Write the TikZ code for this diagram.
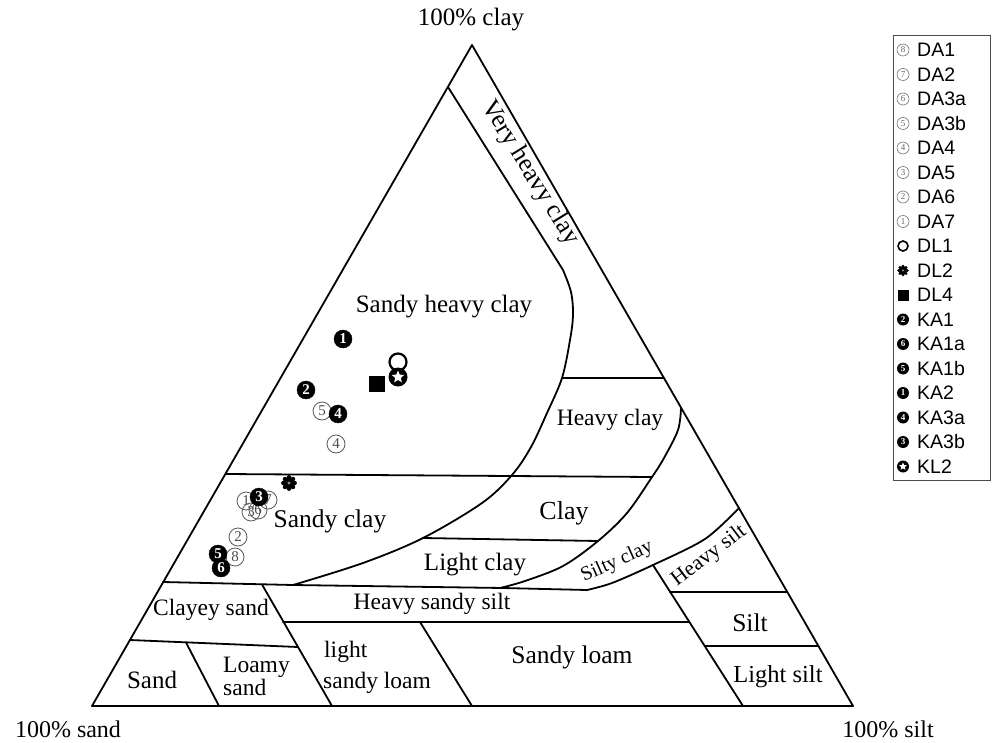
\documentclass[tikz,border=0pt]{standalone}
\usepackage{fontspec}
\setmainfont{Liberation Serif}
\newfontfamily\legfont{Liberation Sans}
\usetikzlibrary{shapes.geometric}
\tikzset{
  bnd/.style={line width=1.8pt, line join=round, line cap=round, black},
  lab/.style={inner sep=0pt, font=\fontsize{#1}{#1}\selectfont},
  lab/.default=24,
  dasym/.style={circle, draw=black!65, line width=0.8pt, minimum size=18pt, inner sep=0pt, text=black!70, font=\fontsize{15}{15}\selectfont},
  kasym/.style={circle, fill=black, draw=black, minimum size=18pt, inner sep=0pt, text=white, font=\bfseries\fontsize{15}{15}\selectfont},
  ldasym/.style={circle, draw=black!55, line width=0.6pt, minimum size=12pt, inner sep=0pt, text=black!60, font=\fontsize{9}{9}\selectfont},
  lkasym/.style={circle, fill=black, minimum size=12pt, inner sep=0pt, text=white, font=\bfseries\fontsize{9}{9}\selectfont},
  legtxt/.style={anchor=west, inner sep=0pt, font=\legfont\fontsize{19.5}{19.5}\selectfont},
  gear/.pic={\fill[black] (0,0) circle (5.6);
    \foreach \a in {0,45,...,315} \fill[black] (\a:5.6) circle (2.3);
    \fill[black!45] (0,0) circle (1.6);}
}
\begin{document}
\begin{tikzpicture}[x=1pt,y=-1pt]
\useasboundingbox (0,0) rectangle (995,743);
% triangle
\coordinate (A) at (92,706);
\coordinate (B) at (853,706);
\coordinate (C) at (472,45);
\draw[bnd] (A) -- (C) -- (B) -- cycle;
% very heavy clay / sandy heavy clay boundary
\draw[bnd] (448,87) -- plot[smooth, tension=0.55] coordinates {(563,270) (571,292) (573,315) (570,340) (562,378) (547,413) (531,447) (512,475) (482,503) (423,538) (363,563) (293,585)};
% horizontal line sandy heavy clay / sandy clay
\draw[bnd] (225.5,474) -- (652,477);
% heavy clay top
\draw[bnd] (562,378) -- (664,378);
% heavy clay right curve
\draw[bnd] plot[smooth, tension=0.55] coordinates {(681,408) (678,430) (664,458) (652,477) (627,513) (598,541) (563,566) (525,581) (500,588)};
% light clay top
\draw[bnd] (423,538) -- (598,541);
% bottom of light clay / silty clay
\draw[bnd] (163,582) -- (293,585) -- (503,588) -- (587,590) plot[smooth, tension=0.5] coordinates {(587,590) (612,583) (653,565) (705,539) (739,508)};
% heavy silt left / sandy loam right
\draw[bnd] (653,565) -- (743,706);
\draw[bnd] (670,592) -- (787,592);
\draw[bnd] (705,646) -- (818,646);
% heavy sandy silt bottom
\draw[bnd] (283,622) -- (689,622);
% clayey sand right
\draw[bnd] (262,584.5) -- (332,706);
% clayey sand bottom
\draw[bnd] (130,640) -- (298,647);
% sand / loamy sand
\draw[bnd] (186,642.5) -- (219,706);
% light sandy loam / sandy loam
\draw[bnd] (420,622) -- (472,706);

% corner labels
\node[lab=25] (lclay) at (471,20) {100\% clay};
\node[lab=24] (lsand) at (68,729) {100\% sand};
\node[lab=24] (lsilt) at (888,729) {100\% silt};
% region labels
\node[lab=25.5, rotate=-58.5] (vhc) at (530,173) {Very heavy clay};
\node[lab=25] (shc) at (444,307) {Sandy heavy clay};
\node[lab=23.5] (hc) at (610,420) {Heavy clay};
\node[lab=26] (cl) at (564,513) {Clay};
\node[lab=25.5] (sc) at (330,521) {Sandy clay};
\node[lab=25] (lc) at (475,565) {Light clay};
\node[lab=20, rotate=24] (syc) at (617,562) {Silty clay};
\node[lab=21.5, rotate=37] (hs) at (709,556) {Heavy silt};
\node[lab=23.5] (cs) at (211,610) {Clayey sand};
\node[lab=23.5] (hss) at (432,604) {Heavy sandy silt};
\node[lab=25] (sd) at (152,680) {Sand};
\node[lab=23.5, anchor=base west] (ls1) at (223,672) {Loamy};
\node[lab=23.5, anchor=base west] (ls2) at (223,695) {sand};
\node[lab=23.5, anchor=base west] (lsl1) at (324,657) {light};
\node[lab=23.5, anchor=base west] (lsl2) at (323,688) {sandy loam};
\node[lab=25.5] (sl) at (572,657) {Sandy loam};
\node[lab=25.5] (st) at (750,623) {Silt};
\node[lab=24.5] (lst) at (778,677) {Light silt};

% data points: DA (open numbered circles)
\node[dasym] (da7) at (246,501) {1};
\node[dasym] (da2) at (268,500) {7};
\node[dasym] (da3a) at (258,510) {6};
\node[dasym] (da5) at (251,512) {3};
\node[dasym] (da6) at (238,537) {2};
\node[dasym] (da1) at (235,557) {8};
\node[dasym] (da3b) at (322,411) {5};
\node[dasym] (da4) at (336,444) {4};
% DL
\node[circle, draw=black, line width=2.2pt, fill=white, minimum size=17pt, inner sep=0pt] (dl1) at (398,362) {};
\pic (dl2) at (289,483) {gear};
\node[rectangle, fill=black, minimum size=16pt, inner sep=0pt] (dl4) at (377,384) {};
% KL2
\node[circle, fill=black, minimum size=19pt, inner sep=0pt] (kl2) at (398,377) {};
\node[star, star points=5, star point ratio=2.2, fill=white, minimum size=13pt, inner sep=0pt] (kl2s) at (kl2) {};
% KA (filled numbered circles)
\node[kasym] (ka2) at (343,339) {1};
\node[kasym] (ka1) at (306,390) {2};
\node[kasym] (ka3a) at (338,414) {4};
\node[kasym] (ka3b) at (259,497) {3};
\node[kasym] (ka1b) at (218,554) {5};
\node[kasym] (ka1a) at (221,568) {6};

% legend
\draw[line width=0.8pt, black!70] (893,35) rectangle (990,480);
\node[ldasym] (s1) at (903,50) {8};   \node[legtxt] (t1) at (917,50) {DA1};
\node[ldasym] (s2) at (903,74.5) {7}; \node[legtxt] (t2) at (917,74.5) {DA2};
\node[ldasym] (s3) at (903,99) {6};   \node[legtxt] (t3) at (917,99) {DA3a};
\node[ldasym] (s4) at (903,123.5) {5};\node[legtxt] (t4) at (917,123.5) {DA3b};
\node[ldasym] (s5) at (903,148) {4};  \node[legtxt] (t5) at (917,148) {DA4};
\node[ldasym] (s6) at (903,172.5) {3};\node[legtxt] (t6) at (917,172.5) {DA5};
\node[ldasym] (s7) at (903,197) {2};  \node[legtxt] (t7) at (917,197) {DA6};
\node[ldasym] (s8) at (903,221.5) {1};\node[legtxt] (t8) at (917,221.5) {DA7};
\node[circle, draw=black, line width=1.6pt, minimum size=10pt, inner sep=0pt] (s9) at (903,246) {}; \node[legtxt] (t9) at (917,246) {DL1};
\pic[scale=0.75] (s10) at (903,270.5) {gear}; \node[legtxt] (t10) at (917,270.5) {DL2};
\node[rectangle, fill=black, minimum size=11pt, inner sep=0pt] (s11) at (903,295) {}; \node[legtxt] (t11) at (917,295) {DL4};
\node[lkasym] (s12) at (903,319.5) {2}; \node[legtxt] (t12) at (917,319.5) {KA1};
\node[lkasym] (s13) at (903,344) {6};   \node[legtxt] (t13) at (917,344) {KA1a};
\node[lkasym] (s14) at (903,368.5) {5}; \node[legtxt] (t14) at (917,368.5) {KA1b};
\node[lkasym] (s15) at (903,393) {1};   \node[legtxt] (t15) at (917,393) {KA2};
\node[lkasym] (s16) at (903,417.5) {4}; \node[legtxt] (t16) at (917,417.5) {KA3a};
\node[lkasym] (s17) at (903,442) {3};   \node[legtxt] (t17) at (917,442) {KA3b};
\node[circle, fill=black, minimum size=12pt, inner sep=0pt] (s18) at (903,466.5) {};
\node[star, star points=5, star point ratio=2.2, fill=white, minimum size=8pt, inner sep=0pt] (s18s) at (s18) {};
\node[legtxt] (t18) at (917,466.5) {KL2};
\end{tikzpicture}
\end{document}
